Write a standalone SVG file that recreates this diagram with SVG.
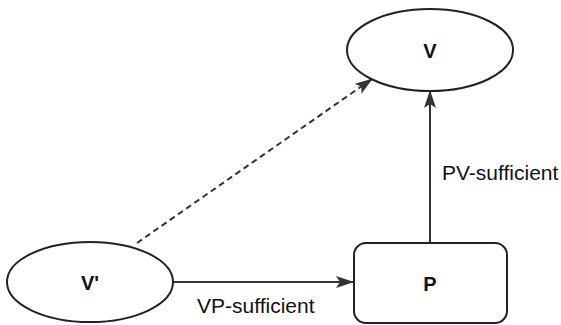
<svg xmlns="http://www.w3.org/2000/svg" width="561" height="325" viewBox="0 0 561 325">
<style>
.node{fill:#fff;stroke:#222;stroke-width:2}
.nl{font-family:"Liberation Sans",Arial,sans-serif;font-size:20px;font-weight:bold;fill:#111;text-anchor:middle}
.el{font-family:"Liberation Sans",Arial,sans-serif;font-size:21px;fill:#111}
.edge{stroke:#333;stroke-width:2;fill:none}
.dash{stroke-dasharray:6,4}
</style>
<defs>
<marker id="ah" markerWidth="18" markerHeight="12" refX="17" refY="6" orient="auto" markerUnits="userSpaceOnUse">
<path d="M0,0 L18,6 L0,12 L4,6 Z" fill="#333"/>
</marker>
</defs>
<rect width="561" height="325" fill="#fff"/>
<g id="edges">
<line class="edge" x1="173" y1="282" x2="353" y2="282" marker-end="url(#ah)"/>
<line class="edge" x1="430" y1="243" x2="430" y2="91" marker-end="url(#ah)"/>
<line class="edge dash" x1="137" y1="243" x2="372" y2="79" marker-end="url(#ah)"/>
<text class="el" x="197" y="313">VP-sufficient</text>
<text class="el" x="442" y="180">PV-sufficient</text>
</g>
<g id="node-V">
<ellipse class="node" cx="430" cy="50" rx="83" ry="41"/>
<text class="nl" x="430" y="58">V</text>
</g>
<g id="node-Vp">
<ellipse class="node" cx="90" cy="282" rx="83" ry="40"/>
<text class="nl" x="90" y="290">V'</text>
</g>
<g id="node-P">
<rect class="node" x="354" y="243" width="153" height="80" rx="12"/>
<text class="nl" x="430" y="291">P</text>
</g>
</svg>
